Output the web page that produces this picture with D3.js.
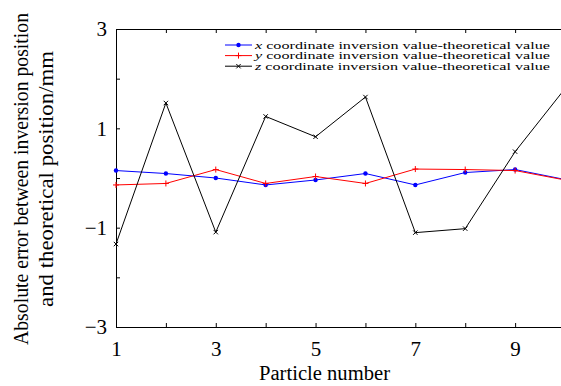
<!DOCTYPE html>
<html>
<head>
<meta charset="utf-8">
<script src="https://cdn.jsdelivr.net/npm/d3@7"></script>
<style>
  body { margin: 0; background: #fff; }
</style>
</head>
<body>
<div class="chart"></div>
<script>
// data
const particles = [1, 2, 3, 4, 5, 6, 7, 8, 9, 10];
const xErr = [0.15, 0.09, 0.0, -0.14, -0.04, 0.09, -0.14, 0.11, 0.17, -0.03];
const yErr = [-0.14, -0.11, 0.17, -0.11, 0.03, -0.11, 0.18, 0.17, 0.15, -0.04];
const zErr = [-1.33, 1.51, -1.09, 1.24, 0.83, 1.63, -1.10, -1.02, 0.53, 1.8];
const yTickLabels = [3, 1, -1, -3];
const xTickLabels = [1, 3, 5, 7, 9];

const seriesList = [
    {name: 'x', values: xErr, color: '#0000ff', marker: 'dot'},
    {name: 'y', values: yErr, color: '#ff0000', marker: 'plus'},
    {name: 'z', values: zErr, color: '#000000', marker: 'cross'}
];

const FONT = 'Liberation Serif';
const W = 561, H = 386;
const margin = ({top: 29, right: -4, bottom: 59, left: 116});
const width = W - margin.left - margin.right;
const height = H - margin.top - margin.bottom;

const svg = d3.select('.chart').append('svg')
    .attr('width', W)
    .attr('height', H)
    .attr('font-family', FONT);

const g = svg.append('g')
    .attr('transform', "translate(" + margin.left + "," + margin.top + ")");

//scales
const xScale = d3.scaleLinear().domain([1, 10]).range([0, width]);
const yScale = d3.scaleLinear().domain([-3, 3]).range([height, 0]);

const fmt = d => (d < 0 ? '\u2212' + Math.abs(d) : '' + d);

//axes: ticks inside, labels only on odd values
const xAxis = d3.axisBottom(xScale)
    .tickValues(particles)
    .tickSizeInner(-4).tickSizeOuter(0)
    .tickPadding(14)
    .tickFormat(d => xTickLabels.includes(d) ? fmt(d) : '');
const yAxis = d3.axisLeft(yScale)
    .tickValues(d3.range(-3, 4))
    .tickSizeInner(-4).tickSizeOuter(0)
    .tickPadding(9)
    .tickFormat(d => yTickLabels.includes(d) ? fmt(d) : '');

const gx = g.append('g')
    .attr('transform', "translate(0," + height + ")")
    .call(xAxis);
const gy = g.append('g').call(yAxis);
const gxt = g.append('g').call(d3.axisTop(xScale).tickValues(particles)
    .tickSizeInner(-4).tickSizeOuter(0).tickFormat(''));
const gyr = g.append('g')
    .attr('transform', "translate(" + width + ",0)")
    .call(d3.axisRight(yScale).tickValues(d3.range(-3, 4))
    .tickSizeInner(-4).tickSizeOuter(0).tickFormat(''));

[gx, gy, gxt, gyr].forEach(a => {
    a.attr('font-family', FONT);
    a.selectAll('path, line').attr('stroke', '#000').attr('stroke-width', 1);
    a.selectAll('text').attr('font-size', 21).attr('fill', '#000');
});
gy.selectAll('text').attr('dy', '0.33em');

//lines
const line = d3.line()
    .x((d, i) => xScale(particles[i]))
    .y(d => yScale(d));

function drawMarker(sel, type, color) {
    if (type === 'dot') {
        sel.append('circle').attr('r', 2.2).attr('fill', color);
    } else if (type === 'plus') {
        sel.append('path').attr('d', 'M-3,0H3M0,-3V3')
            .attr('stroke', color).attr('stroke-width', 1);
    } else {
        sel.append('path').attr('d', 'M-2.2,-2.2L2.2,2.2M-2.2,2.2L2.2,-2.2')
            .attr('stroke', color).attr('stroke-width', 1);
    }
}

seriesList.forEach(s => {
    g.append('path')
        .datum(s.values)
        .attr('fill', 'none')
        .attr('stroke', s.color)
        .attr('stroke-width', 1)
        .attr('d', line);
    g.selectAll('.m-' + s.name)
        .data(s.values)
        .enter()
        .append('g')
        .attr('class', 'm-' + s.name)
        .attr('transform', (d, i) => "translate(" + xScale(particles[i]) + "," + yScale(d) + ")")
        .each(function() { drawMarker(d3.select(this), s.marker, s.color); });
});

//legend (text is wide in the reference, so stretch it with textLength)
const legend = svg.append('g').attr('transform', 'translate(225,45)');
seriesList.forEach((s, i) => {
    const row = legend.append('g').attr('transform', 'translate(0,' + (i * 10.6) + ')');
    row.append('line').attr('x1', 0).attr('x2', 27).attr('y1', 0).attr('y2', 0)
        .attr('stroke', s.color).attr('stroke-width', 1);
    drawMarker(row.append('g').attr('transform', 'translate(13.5,0)'), s.marker, s.color);
    const t = row.append('text')
        .attr('x', 30).attr('y', 3.6)
        .attr('font-size', 10.5)
        .attr('textLength', 295)
        .attr('lengthAdjust', 'spacingAndGlyphs');
    t.append('tspan').attr('font-style', 'italic').text(s.name);
    t.append('tspan').text(' coordinate inversion value-theoretical value');
});

//axis titles
svg.append('text')
    .attr('x', 259).attr('y', 380)
    .attr('font-size', 20)
    .attr('textLength', 131)
    .attr('lengthAdjust', 'spacingAndGlyphs')
    .text('Particle number');
const yt = svg.append('g').attr('transform', 'translate(0,179) rotate(-90)');
yt.append('text')
    .attr('x', -166).attr('y', 28)
    .attr('font-size', 20)
    .attr('textLength', 332)
    .attr('lengthAdjust', 'spacingAndGlyphs')
    .text('Absolute error between inversion position');
yt.append('text')
    .attr('x', -128).attr('y', 53)
    .attr('font-size', 20)
    .attr('textLength', 256)
    .attr('lengthAdjust', 'spacingAndGlyphs')
    .text('and theoretical position/mm');
</script>
</body>
</html>
